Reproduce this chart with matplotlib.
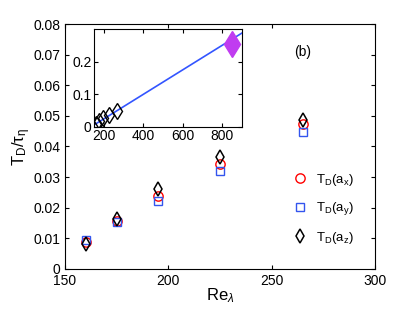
import numpy as np
import matplotlib
matplotlib.use("Agg")
import matplotlib.pyplot as plt

plt.rcParams['font.family'] = ['Liberation Sans', 'DejaVu Sans']
plt.rcParams['mathtext.fontset'] = 'custom'
plt.rcParams['mathtext.rm'] = 'Liberation Sans'
plt.rcParams['mathtext.it'] = 'Liberation Sans:italic'

# Re_lambda values and decorrelation times
re_lambda = [160, 175, 195, 225, 265]
td_ax = [0.0089, 0.0158, 0.0239, 0.0343, 0.0474]
td_ay = [0.0095, 0.0155, 0.0222, 0.0321, 0.0446]
td_az = [0.0081, 0.0162, 0.0260, 0.0365, 0.0487]

# inset: extra point at high Re and the linear fit
re_high = [850]
td_high = [0.255]
fit_x = [153, 900]
fit_y = [0.007, 0.288]

fig = plt.figure(figsize=(4.15, 3.13), dpi=100)
ax = fig.add_axes([0.1566, 0.1406, 0.747, 0.7827])

ax.plot(re_lambda, td_ax, 'o', mfc='none', mec='red', ms=6.7, mew=1.0, label=r'$\mathrm{T_D(a_x)}$')
ax.plot(re_lambda, td_ay, 's', mfc='none', mec='#3355ee', ms=5.6, mew=1.0, label=r'$\mathrm{T_D(a_y)}$')
ax.plot(re_lambda, td_az, 'd', mfc='none', mec='black', ms=7.3, mew=1.1, label=r'$\mathrm{T_D(a_z)}$')

ax.set_xlim(150, 300)
ax.set_ylim(0, 0.08)
ax.set_xticks([150, 200, 250, 300])
ax.set_yticks(np.arange(0, 0.081, 0.01))
ax.set_yticklabels(['0', '0.01', '0.02', '0.03', '0.04', '0.05', '0.06', '0.07', '0.08'])
ax.tick_params(direction='in', top=True, right=True, labelsize=10, length=3)
ax.set_xlabel(r'$\mathrm{Re}_\lambda$', fontsize=12, labelpad=-1)
ax.set_ylabel(r'$\mathrm{T_D/\tau_\eta}$', fontsize=12, labelpad=0)
ax.text(265, 0.071, '(b)', ha='center', va='center', fontsize=10)

ax.legend(loc='center left', bbox_to_anchor=(0.695, 0.245), frameon=False,
          fontsize=9.5, handletextpad=0.6, labelspacing=0.95, handlelength=1.2)

ins = fig.add_axes([0.2272, 0.5952, 0.3552, 0.3112])
ins.plot(fit_x, fit_y, '-', color='#3355ff', lw=1.2)
ins.plot(re_lambda, td_az, 'd', mfc='none', mec='black', ms=8.5, mew=1.0)
ins.plot(re_high, td_high, 'd', color='#c03cf0', ms=13)
ins.set_xlim(150, 900)
ins.set_ylim(0, 0.3)
ins.set_xticks([200, 400, 600, 800])
ins.set_yticks([0, 0.1, 0.2])
ins.set_yticklabels(['0', '0.1', '0.2'])
ins.tick_params(direction='in', top=True, right=True, labelsize=10, length=3, pad=2)

fig.savefig('out.png', dpi=100)
